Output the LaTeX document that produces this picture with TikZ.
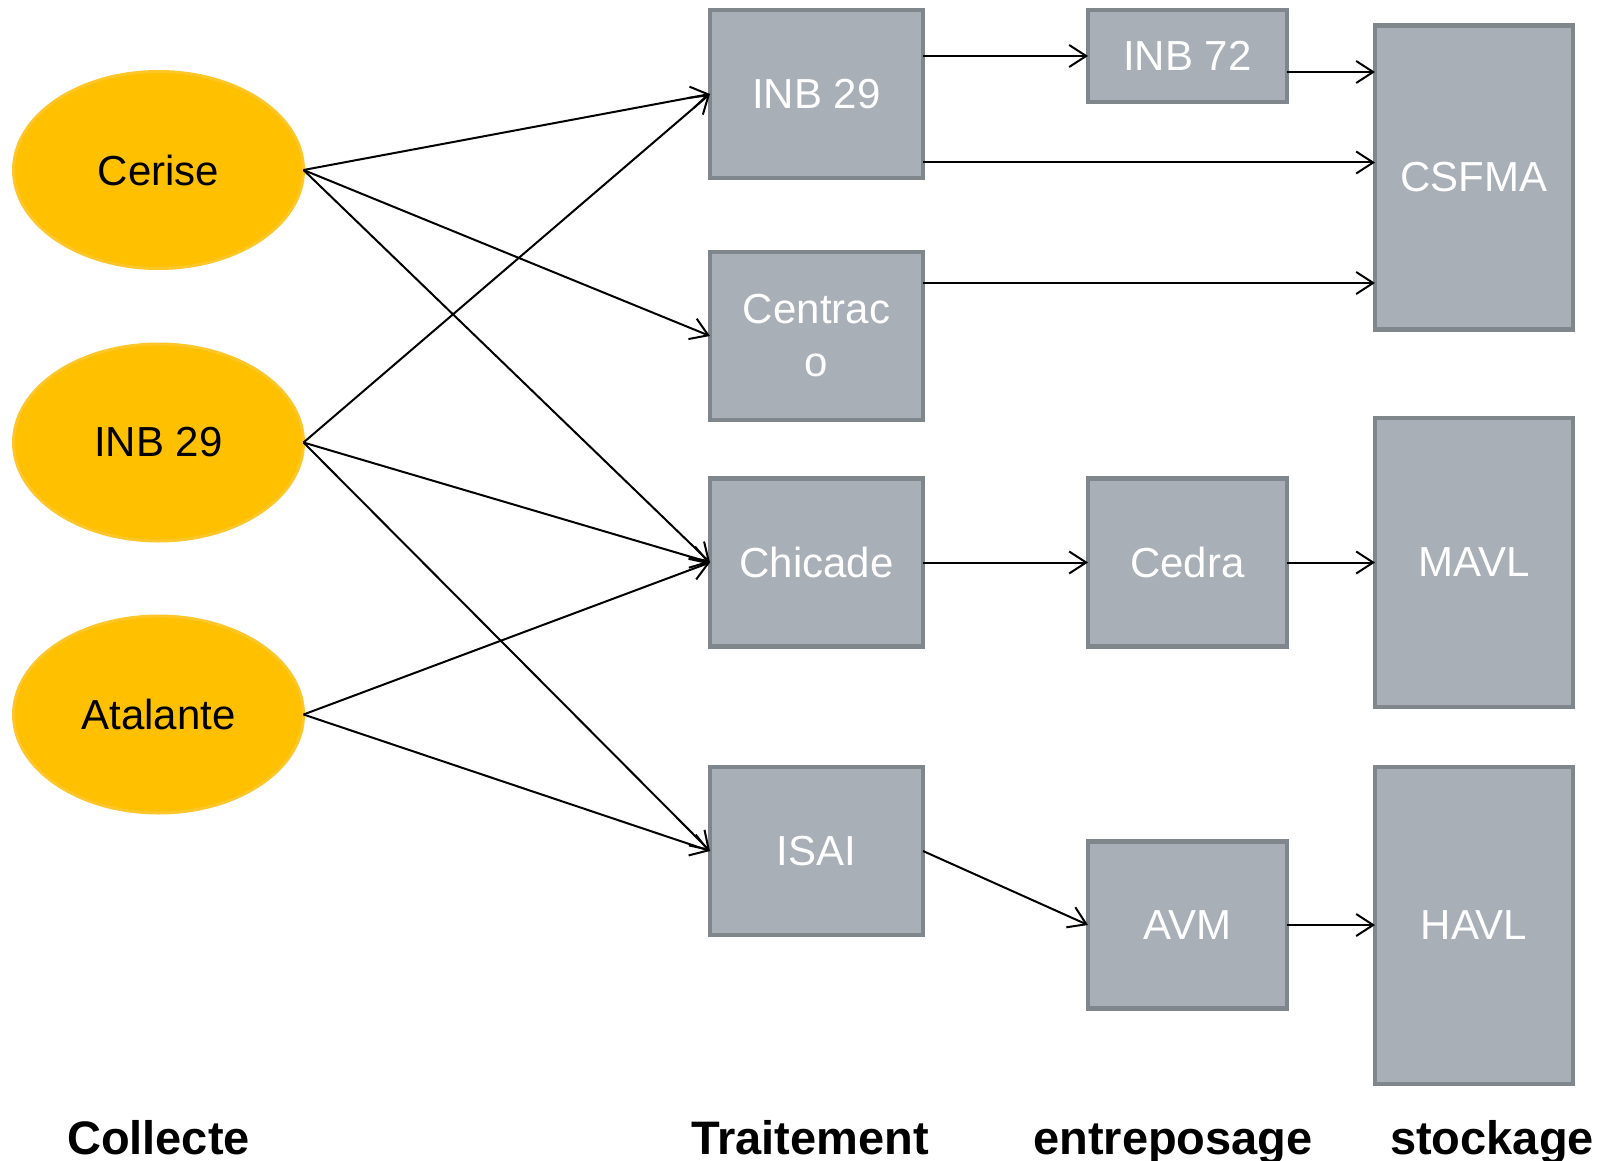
\documentclass[tikz,border=0pt]{standalone}
\usepackage{fontspec}
\setmainfont{Liberation Sans}
\usetikzlibrary{arrows.meta,shapes.geometric,calc}
\definecolor{boxfill}{HTML}{A9AFB6}
\definecolor{boxline}{HTML}{7F868C}
\definecolor{ellfill}{HTML}{FFC000}
\definecolor{ellline}{HTML}{FFC62A}
\tikzset{
  box/.style={draw=boxline, fill=boxfill, line width=4.5pt, text=white,
    font=\fontsize{42}{53}\selectfont, align=center, inner sep=0pt, outer sep=0pt},
  ell/.style={ellipse, draw=ellline, fill=ellfill, line width=3pt, text=black,
    font=\fontsize{42}{50}\selectfont, inner sep=0pt, outer sep=0pt,
    minimum width=290pt, minimum height=197pt},
  arr/.style={line width=2pt, -{Straight Barb[length=17pt,width=22pt,line width=2pt]}},
  lab/.style={font=\bfseries\fontsize{47}{56}\selectfont, anchor=base}
}
\begin{document}
\begin{tikzpicture}[x=1pt,y=-1pt]
\useasboundingbox (0,0) rectangle (1614,1161);
% collecte
\node[ell] (cerise) at (158.5,170) {Cerise};
\node[ell] (inbe) at (158.5,442.5) {INB 29};
\node[ell] (atal) at (158.5,714.5) {Atalante};
% traitement
\node[box, minimum width=213pt, minimum height=168pt] (inbb) at (816.5,94) {INB 29};
\node[box, minimum width=213pt, minimum height=168pt] (centraco) at (816.5,336) {Centrac\\o};
\node[box, minimum width=213pt, minimum height=168pt] (chicade) at (816.5,562.5) {Chicade};
\node[box, minimum width=213pt, minimum height=168pt] (isai) at (816.5,851) {ISAI};
% entreposage
\node[box, minimum width=199pt, minimum height=92pt] (inb72) at (1187.5,56) {INB 72};
\node[box, minimum width=199pt, minimum height=168pt] (cedra) at (1187.5,562.5) {Cedra};
\node[box, minimum width=199pt, minimum height=167pt] (avm) at (1187.5,925) {AVM};
% stockage
\node[box, minimum width=198pt, minimum height=304pt] (csfma) at (1474,177.5) {CSFMA};
\node[box, minimum width=198pt, minimum height=289pt] (mavl) at (1474,562.5) {MAVL};
\node[box, minimum width=198pt, minimum height=317pt] (havl) at (1474,925.5) {HAVL};
% labels
\node[lab] (l1) at (158.5,1154) {Collecte};
\node[lab] (l2) at (810,1154) {Traitement};
\node[lab] (l3) at (1173,1154) {entreposage};
\node[lab] (l4) at (1492,1154) {stockage};
% connectors from collecte
\draw[arr] (cerise.east) -- (inbb.west);
\draw[arr] (cerise.east) -- (centraco.west);
\draw[arr] (cerise.east) -- (chicade.west);
\draw[arr] (inbe.east) -- (inbb.west);
\draw[arr] (inbe.east) -- (chicade.west);
\draw[arr] (inbe.east) -- (isai.west);
\draw[arr] (atal.east) -- (chicade.west);
\draw[arr] (atal.east) -- (isai.west);
% right side
\draw[arr] (inb72.west -| inbb.east) -- (inb72.west);
\coordinate (p1) at ([yshift=-16pt]inb72.east);
\draw[arr] (p1) -- (p1 -| csfma.west);
\coordinate (p2) at ([yshift=-68.5pt]inbb.east);
\draw[arr] (p2) -- (p2 -| csfma.west);
\coordinate (p3) at ([yshift=53pt]centraco.east);
\draw[arr] (p3) -- (p3 -| csfma.west);
\draw[arr] (chicade.east) -- (cedra.west);
\draw[arr] (cedra.east) -- (mavl.west);
\draw[arr] (isai.east) -- (avm.west);
\draw[arr] (avm.east) -- (avm.east -| havl.west);
\end{tikzpicture}
\end{document}
